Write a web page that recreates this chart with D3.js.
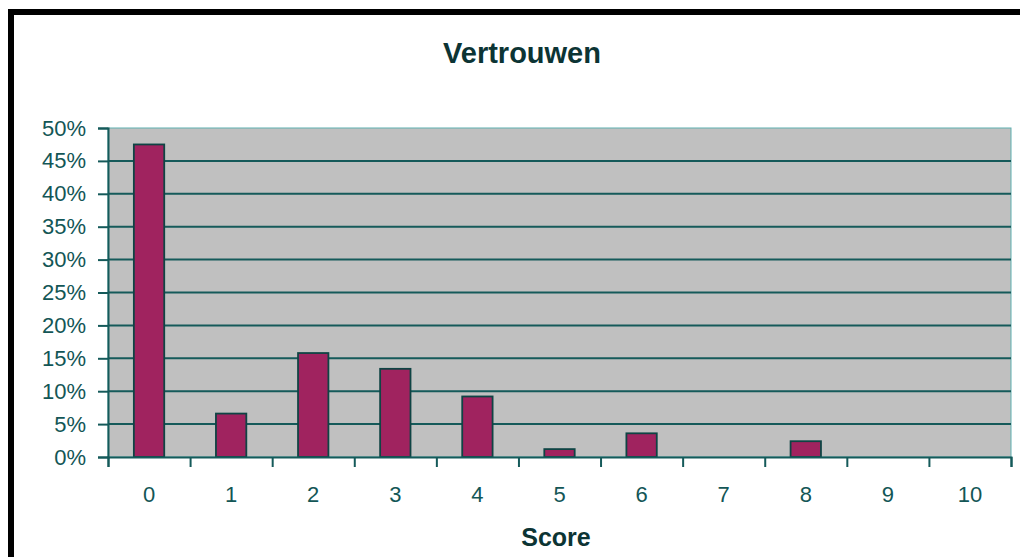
<!DOCTYPE html>
<html>
<head>
<meta charset="utf-8">
<script src="https://cdn.jsdelivr.net/npm/d3@7"></script>
<style>
  body { margin: 0; background: #fff; }
  svg { display: block; }
</style>
</head>
<body>
<svg id="chart" width="1020" height="557"></svg>
<script>
// data
var categories = ["0", "1", "2", "3", "4", "5", "6", "7", "8", "9", "10"];
var values = [0.475, 0.066, 0.158, 0.134, 0.092, 0.012, 0.036, 0, 0.024, 0, 0];
var yTicks = [0, 0.05, 0.10, 0.15, 0.20, 0.25, 0.30, 0.35, 0.40, 0.45, 0.50];

var plotLeft = 108, plotRight = 1011, plotTop = 128, plotBottom = 457;
var textCol = "#135656";
var gridCol = "#155a5a";

var svg = d3.select("#chart");

// frame (black border top + left)
svg.append("rect").attr("x", 8).attr("y", 9).attr("width", 1012).attr("height", 6).attr("fill", "#000");
svg.append("rect").attr("x", 8).attr("y", 9).attr("width", 6).attr("height", 548).attr("fill", "#000");

var x = d3.scaleBand()
    .domain(categories)
    .range([plotLeft, plotRight])
    .paddingInner(0.63)
    .paddingOuter(0.315);

var xEdge = d3.scaleLinear().domain([0, categories.length]).range([plotLeft, plotRight]);

var y = d3.scaleLinear()
    .domain([0, 0.5])
    .range([plotBottom, plotTop]);

// plot area
svg.append("rect")
    .attr("x", plotLeft).attr("y", plotTop)
    .attr("width", plotRight - plotLeft).attr("height", plotBottom - plotTop)
    .attr("fill", "#c0c0c0")
    .attr("stroke", "#5fb0b0")
    .attr("stroke-width", 1);

// gridlines
svg.append("g")
    .selectAll("line")
    .data(yTicks.slice(1, -1))
    .enter().append("line")
    .attr("x1", plotLeft).attr("x2", plotRight)
    .attr("y1", function(d) { return y(d); })
    .attr("y2", function(d) { return y(d); })
    .attr("stroke", gridCol)
    .attr("stroke-width", 2);

// bars
svg.append("g")
    .selectAll("rect")
    .data(values)
    .enter().append("rect")
    .attr("x", function(d, i) { return x(categories[i]); })
    .attr("width", x.bandwidth())
    .attr("y", function(d) { return y(d); })
    .attr("height", function(d) { return plotBottom - y(d); })
    .attr("fill", "#a0235f")
    .attr("stroke", "#0f4444")
    .attr("stroke-width", 1.8)
    .style("display", function(d) { return d > 0 ? null : "none"; });

// y axis
var yAxis = svg.append("g")
    .attr("transform", "translate(" + plotLeft + ",0)")
    .call(d3.axisLeft(y).tickValues(yTicks).tickFormat(d3.format(".0%")).tickSize(10).tickPadding(12));
yAxis.select(".domain").attr("stroke", gridCol).attr("stroke-width", 2);
yAxis.selectAll(".tick line").attr("stroke", gridCol).attr("stroke-width", 2);
yAxis.selectAll("text")
    .attr("fill", textCol)
    .style("font-family", "Liberation Sans, Arial, sans-serif")
    .style("font-size", "22px");

// x axis: ticks on category edges
var xAxisG = svg.append("g")
    .attr("transform", "translate(0," + plotBottom + ")");
xAxisG.call(d3.axisBottom(xEdge).tickValues(d3.range(categories.length + 1)).tickFormat("").tickSize(10).tickSizeOuter(10));
xAxisG.select(".domain").attr("stroke", gridCol).attr("stroke-width", 2);
xAxisG.selectAll(".tick line").attr("stroke", gridCol).attr("stroke-width", 2);

svg.append("g")
    .selectAll("text")
    .data(categories)
    .enter().append("text")
    .attr("x", function(d) { return x(d) + x.bandwidth() / 2; })
    .attr("y", 502)
    .attr("text-anchor", "middle")
    .attr("fill", textCol)
    .style("font-family", "Liberation Sans, Arial, sans-serif")
    .style("font-size", "22px")
    .text(function(d) { return d; });

// title
svg.append("text")
    .attr("x", 522).attr("y", 63)
    .attr("text-anchor", "middle")
    .attr("fill", "#0c3434")
    .style("font-family", "Liberation Sans, Arial, sans-serif")
    .style("font-weight", "bold")
    .style("font-size", "29px")
    .text("Vertrouwen");

// x axis title
svg.append("text")
    .attr("x", 556).attr("y", 546)
    .attr("text-anchor", "middle")
    .attr("fill", "#0c3434")
    .style("font-family", "Liberation Sans, Arial, sans-serif")
    .style("font-weight", "bold")
    .style("font-size", "25px")
    .text("Score");
</script>
</body>
</html>
